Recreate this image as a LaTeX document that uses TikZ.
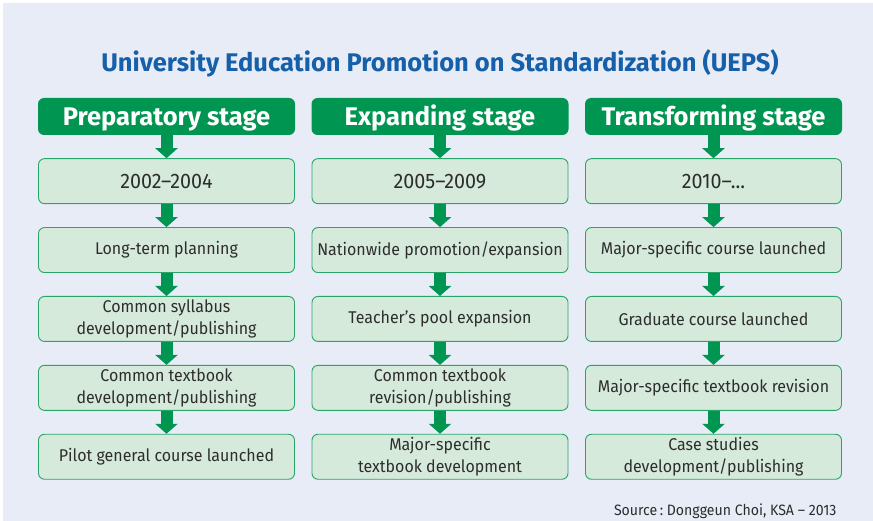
\documentclass[tikz,border=0pt]{standalone}
\usepackage{fontspec}
\setmainfont{Fira Sans}
\newfontfamily\itemfont[Ligatures=TeX,FakeStretch=0.94]{Fira Sans}
\usetikzlibrary{positioning,arrows.meta}

\definecolor{ksagreen}{RGB}{0,150,82}
\definecolor{ksalight}{RGB}{214,234,220}
\definecolor{ksaline}{RGB}{40,165,105}
\definecolor{ksablue}{RGB}{22,96,170}
\definecolor{backdrop}{RGB}{232,236,247}
\definecolor{inkgray}{RGB}{45,45,45}

\begin{document}
\begin{tikzpicture}[x=1pt,y=-1pt,
  stage/.style={fill=ksagreen,rounded corners=6pt,minimum width=257pt,
    minimum height=37pt,inner sep=0pt,text=white,text height=19pt,text depth=0pt,
    font=\fontsize{25.5}{28}\selectfont\bfseries},
  item/.style={draw=ksaline,line width=0.9pt,fill=ksalight,rounded corners=6pt,
    minimum width=256pt,minimum height=45pt,inner sep=0pt,align=center,
    text=inkgray,font=\itemfont\fontsize{17}{22}\selectfont},
  year/.style={font=\itemfont\fontsize{21}{24}\selectfont},
  flow/.style={ksagreen,line width=12pt,-{Triangle[width=22pt,length=10pt]}}]
  \useasboundingbox (0,0) rectangle (873,521);
  \fill[backdrop] (3,3) rectangle (873,521);
  \node[text=ksablue,font=\fontsize{25.5}{28}\selectfont\bfseries] (title) at (440,63)
    {University Education Promotion on Standardization (UEPS)};

  % preparatory stage
  \node[stage] (p0) at (166.5,116.5) {Preparatory stage};
  \node[item,year,below=23pt of p0] (p1) {2002--2004};
  \node[item,below=23pt of p1] (p2) {Long-term planning};
  \node[item,below=23pt of p2] (p3) {Common syllabus\\development/publishing};
  \node[item,below=23pt of p3] (p4) {Common textbook\\development/publishing};
  \node[item,below=23pt of p4] (p5) {Pilot general course launched};

  % expanding stage
  \node[stage] (e0) at (440,116.5) {Expanding stage};
  \node[item,year,below=23pt of e0] (e1) {2005--2009};
  \node[item,below=23pt of e1] (e2) {Nationwide promotion/expansion};
  \node[item,below=23pt of e2] (e3) {Teacher’s pool expansion};
  \node[item,below=23pt of e3] (e4) {Common textbook\\revision/publishing};
  \node[item,below=23pt of e4] (e5) {Major-specific\\textbook development};

  % transforming stage
  \node[stage] (t0) at (713.5,116.5) {Transforming stage};
  \node[item,year,below=23pt of t0] (t1) {2010--...};
  \node[item,below=23pt of t1] (t2) {Major-specific course launched};
  \node[item,below=23pt of t2] (t3) {Graduate course launched};
  \node[item,below=23pt of t3] (t4) {Major-specific textbook revision};
  \node[item,below=23pt of t4] (t5) {Case studies\\development/publishing};

  \draw[flow] (p0.south)--(p1.north);
  \draw[flow] (p1.south)--(p2.north);
  \draw[flow] (p2.south)--(p3.north);
  \draw[flow] (p3.south)--(p4.north);
  \draw[flow] (p4.south)--(p5.north);
  \draw[flow] (e0.south)--(e1.north);
  \draw[flow] (e1.south)--(e2.north);
  \draw[flow] (e2.south)--(e3.north);
  \draw[flow] (e3.south)--(e4.north);
  \draw[flow] (e4.south)--(e5.north);
  \draw[flow] (t0.south)--(t1.north);
  \draw[flow] (t1.south)--(t2.north);
  \draw[flow] (t2.south)--(t3.north);
  \draw[flow] (t3.south)--(t4.north);
  \draw[flow] (t4.south)--(t5.north);

  \node[anchor=base east,text=inkgray,font=\itemfont\fontsize{15}{16}\selectfont] (source) at (840,515)
    {Source\,:~Donggeun Choi, KSA -- 2013};
\end{tikzpicture}
\end{document}
